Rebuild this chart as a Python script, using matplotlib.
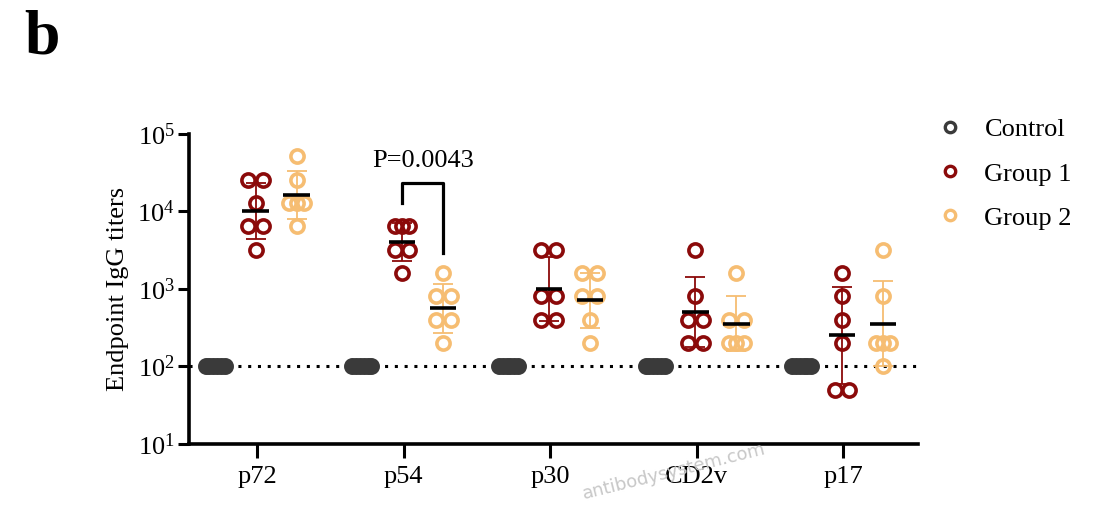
import matplotlib.pyplot as plt
from matplotlib.lines import Line2D
import numpy as np

plt.rcParams['font.family'] = ['Liberation Serif', 'DejaVu Serif']

antigens = ['p72', 'p54', 'p30', 'CD2v', 'p17']

# endpoint titers (6 animals per group)
control = [
    [100, 100, 100, 100, 100, 100],
    [100, 100, 100, 100, 100, 100],
    [100, 100, 100, 100, 100, 100],
    [100, 100, 100, 100, 100, 100],
    [100, 100, 100, 100, 100, 100],
]
group1 = [
    [25600, 25600, 12800, 6400, 6400, 3200],
    [6400, 6400, 6400, 3200, 3200, 1600],
    [3200, 3200, 800, 800, 400, 400],
    [3200, 800, 400, 400, 200, 200],
    [1600, 800, 400, 200, 50, 50],
]
group2 = [
    [51200, 25600, 12800, 12800, 12800, 6400],
    [1600, 800, 800, 400, 400, 200],
    [1600, 1600, 800, 800, 400, 200],
    [1600, 400, 400, 200, 200, 200],
    [3200, 800, 200, 200, 200, 100],
]
cutoff = 100
p_label = 'P=0.0043'

colors = {
    'control': '#3a3a3a',
    'g1': '#8b0a0a',
    'g2': '#f6bd72',
}

fig = plt.figure(figsize=(11.05, 5.15), dpi=100)
ax = fig.add_axes([0.171, 0.138, 0.66, 0.602])
ax.set_yscale('log')
ax.set_ylim(10, 1e5)
ax.set_xlim(-0.464, 4.51)


def spread(vals, step):
    # side-by-side offsets for repeated values
    vals = np.asarray(vals, dtype=float)
    offs = np.zeros(len(vals))
    for v in np.unique(vals):
        idx = np.where(vals == v)[0]
        n = len(idx)
        if n == 2:
            offs[idx] = [-step, step]
        elif n >= 3:
            offs[idx] = (np.arange(n) - (n - 1) / 2) * step
    return offs


def draw_group(data, shift, color, filled=False):
    for i, vals in enumerate(data):
        vals = np.asarray(vals, dtype=float)
        x = i + shift
        lv = np.log10(vals)
        m = lv.mean()
        if filled:
            offs = np.linspace(-0.065, 0.065, len(vals))
            ax.plot(x + offs, vals, 'o', ms=10, mfc=color, mec=color, mew=2.2,
                    zorder=3, clip_on=False)
            continue
        sd = lv.std(ddof=1)
        ax.errorbar([x], [10 ** m],
                    yerr=[[10 ** m - 10 ** (m - sd)], [10 ** (m + sd) - 10 ** m]],
                    fmt='none', ecolor=color, elinewidth=1.3, capsize=7,
                    capthick=1.3, zorder=2)
        offs = spread(vals, 0.05)
        ax.plot(x + offs, vals, 'o', ms=9.5, mfc='none', mec=color, mew=2.6,
                zorder=3, clip_on=False)
        ax.plot([x - 0.09, x + 0.09], [10 ** m, 10 ** m], color='black',
                lw=2.6, zorder=4, solid_capstyle='butt')


draw_group(control, -0.285, colors['control'], filled=True)
draw_group(group1, -0.01, colors['g1'])
draw_group(group2, 0.27, colors['g2'])

ax.axhline(cutoff, color='black', ls=(0, (1, 2.2)), lw=2.2, zorder=1)

# significance bracket between Group 1 and Group 2 for p54
bx1, bx2 = 1 - 0.01, 1 + 0.27
ax.plot([bx1, bx1, bx2, bx2], [12700, 23000, 23000, 2950], color='black',
        lw=2.3, zorder=5)
ax.text((bx1 + bx2) / 2, 32000, p_label, ha='center', va='bottom', fontsize=19)

ax.set_xticks(range(len(antigens)))
ax.set_xticklabels(antigens, fontsize=19)
ax.set_yticks([10, 100, 1000, 10000, 100000])
ax.set_yticklabels([r'$\mathregular{10^{%d}}$' % k for k in range(1, 6)], fontsize=19)
ax.yaxis.set_minor_locator(plt.NullLocator())
ax.tick_params(axis='y', length=8, width=2.2, pad=2)
ax.tick_params(axis='x', length=10, width=2.2, pad=6)
for s in ['top', 'right']:
    ax.spines[s].set_visible(False)
for s in ['left', 'bottom']:
    ax.spines[s].set_linewidth(2.6)
ax.set_ylabel('Endpoint IgG titers', fontsize=19, labelpad=6)

handles = [
    Line2D([], [], ls='none', marker='o', ms=7.5, mfc='none', mec=colors['control'], mew=2.4),
    Line2D([], [], ls='none', marker='o', ms=7.5, mfc='none', mec=colors['g1'], mew=2.4),
    Line2D([], [], ls='none', marker='o', ms=7.5, mfc='none', mec=colors['g2'], mew=2.4),
]
fig.legend(handles, ['Control', 'Group 1', 'Group 2'], loc='upper left',
           bbox_to_anchor=(0.824, 0.817), frameon=False, fontsize=19,
           handletextpad=0.7, labelspacing=0.78, handlelength=1.2)

fig.text(0.022, 0.925, 'b', fontsize=46, fontweight='bold', ha='left', va='center')
fig.text(0.61, 0.085, 'antibodysystem.com', fontsize=13, color='#c8c8c8',
         rotation=14, ha='center', va='center', family='DejaVu Sans')

fig.savefig('out.png', dpi=100, facecolor='white')
